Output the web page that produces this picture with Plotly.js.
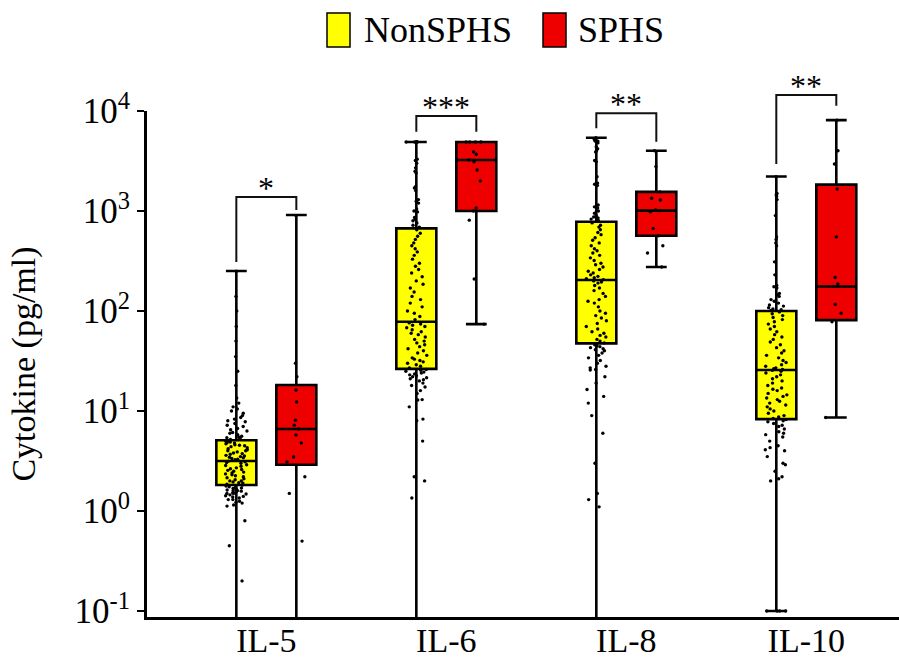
<!DOCTYPE html>
<html>
<head>
<meta charset="utf-8">
<script src="https://cdn.plot.ly/plotly-3.0.1.min.js"></script>
<style>
  html, body { margin: 0; padding: 0; background: #ffffff; }
  #chart { width: 899px; height: 661px; }
</style>
</head>
<body>
<div id="chart"></div>
<script>
// ---------------- DATA ----------------
const categories = ['IL-5', 'IL-6', 'IL-8', 'IL-10'];
const groupNames = ['NonSPHS', 'SPHS'];

// Box statistics (pg/ml)
const nonQ1     = [1.82, 26.4, 47.5, 8.3];
const nonMedian = [3.16, 78, 204, 25.7];
const nonQ3     = [5.1, 670, 780, 100];
const nonLower  = [0.01, 0.01, 0.01, 0.1];
const nonUpper  = [251, 4900, 5400, 2215];

const sphsQ1     = [2.9, 1000, 565, 81];
const sphsMedian = [6.6, 3236, 1008, 176];
const sphsQ3     = [18.2, 4900, 1555, 1835];
const sphsLower  = [0.01, 74, 275, 8.6];
const sphsUpper  = [912, 4900, 4000, 8100];

// Individual sample points
const il5Non = [0.2, 0.45, 0.8, 1.12, 1.15, 1.2, 1.22, 1.25, 1.3, 1.3, 1.35, 1.38, 1.4, 1.42, 1.45, 1.48, 1.5, 1.5, 1.52, 1.55, 1.58, 1.6, 1.6, 1.62, 1.65, 1.68, 1.7, 1.72, 1.75, 1.78,
  1.82, 1.85, 1.9, 1.92, 1.95, 2.0, 2.0, 2.05, 2.1, 2.15, 2.2, 2.25, 2.3, 2.35, 2.4, 2.45, 2.5, 2.55, 2.6, 2.65, 2.7, 2.8, 2.85, 2.9, 3.0, 3.05, 3.1, 3.15,
  3.25, 3.3, 3.35, 3.4, 3.45, 3.5, 3.55, 3.6, 3.7, 3.75, 3.8, 3.9, 4.0, 4.0, 4.1, 4.2, 4.3, 4.4, 4.5, 4.55, 4.6, 4.7, 4.8, 4.85, 4.9, 5.0, 5.05,
  5.2, 5.3, 5.4, 5.5, 5.6, 5.8, 6.0, 6.1, 6.3, 6.5, 6.7, 7.0, 7.2, 7.5, 7.8, 8.0, 8.3, 8.6, 9.0, 9.5, 10.0, 10.5, 11.0, 12.0, 13.5, 18, 25, 35, 50, 70, 100, 140, 250];
const il5Sphs = [0.5, 1.5, 2.2, 3.1, 3.47, 4.8, 5.75, 6.6, 7.2, 8.1, 12.3, 16.2, 22, 30, 900];

const il6Non = [4900, 4900, 4900, 4900, 4900, 4900, 3300, 3200, 3000, 2700, 2500, 2400, 1750, 1700, 1600, 1300, 1250, 1200, 1050, 1000, 980, 860, 820, 800, 760, 720, 690,
  650, 600, 560, 520, 480, 450, 420, 390, 360, 330, 300, 280, 260, 240, 220, 200, 185, 170, 155, 140, 130, 120, 110, 100, 95, 88, 82,
  76, 74, 72, 70, 68, 65, 62, 60, 58, 55, 52, 50, 48, 46, 44, 42, 40, 38, 36, 34, 33, 32, 31, 30, 29, 28, 27,
  26, 25.5, 25, 24.5, 24, 23.5, 23, 22.5, 22, 21.5, 21, 20.5, 20, 19, 18, 17.4, 16, 15, 13, 12.9, 11, 8.3, 8, 5, 2.2, 2.0, 1.35];
const il6Sphs = [4900, 4900, 4900, 4900, 3900, 3700, 3236, 3100, 2570, 2000, 1070, 1000, 810, 209, 74];

const il8Non = [5400, 5200, 5000, 5000, 4900, 4800, 4400, 4200, 4000, 3900, 3200, 3100, 2200, 1900, 1850, 1800, 1150, 1100, 1070, 1000, 950, 900, 870, 850, 830, 810, 790,
  760, 720, 690, 650, 610, 580, 540, 510, 480, 450, 420, 400, 380, 360, 340, 320, 300, 290, 275, 260, 250, 240, 230, 222, 215, 210, 206,
  200, 195, 190, 180, 170, 160, 150, 140, 130, 125, 120, 110, 100, 95, 90, 85, 80, 75, 70, 66, 62, 60, 57, 55, 52, 50, 48,
  46, 45, 44, 43, 42, 41, 40, 38, 36, 34, 32, 30, 28, 27, 26, 25.7, 22, 19, 16.4, 14, 12, 9, 6, 3, 1.5, 1.3, 1.1];
const il8Sphs = [4000, 2780, 1555, 1340, 1290, 1023, 1008, 980, 670, 565, 450, 380, 275];

const il10Non = [2200, 1500, 1450, 1400, 1300, 900, 550, 520, 480, 450, 310, 230, 180, 175, 170, 150, 145, 140, 130, 125, 120, 115, 112, 108, 105, 103, 101,
  98, 94, 90, 86, 82, 78, 74, 70, 66, 62, 58, 55, 52, 49, 46, 43, 40, 38, 36, 34, 32, 30.5, 29, 28, 27, 26.5, 26,
  25.5, 25, 24, 23, 22, 21, 20, 19, 18, 17, 16.5, 16, 15, 14.5, 14, 13.5, 13, 12.5, 12, 11.5, 11, 10.5, 10, 9.5, 9, 8.7, 8.4,
  8.2, 8.0, 7.8, 7.5, 7.2, 7.0, 6.6, 6.2, 6.0, 5.8, 5.5, 5.0, 4.5, 4.3, 4.1, 4.0, 3.5, 3.0, 2.9, 2.5, 2.2, 2.1, 2.0, 0.1, 0.1, 0.1, 0.1];
const il10Sphs = [8100, 4000, 2950, 1660, 550, 216, 186, 176, 117, 95, 78, 8.6];

// Significance brackets (pg/ml)
const sigLabels = ['*', '***', '**', '**'];
const sigBar    = [1380, 8900, 9480, 14450];
const sigLeft   = [309, 6200, 6710, 2950];
const sigRight  = [1023, 6200, 4930, 11300];

const tickVals = [0.1, 1, 10, 100, 1000, 10000];
const tickText = ['10<sup>-1</sup>', '10<sup>0</sup>', '10<sup>1</sup>', '10<sup>2</sup>', '10<sup>3</sup>', '10<sup>4</sup>'];

// ---------------- STYLE ----------------
const FONT = 'Liberation Serif, Times New Roman, serif';
const YELLOW = '#ffff00';
const RED = '#ee0000';
const xRange = [-0.663, 3.515];
const yRange = [-1.06, 4];
const margin = {l: 147, r: 0, t: 111, b: 44};
const W = 899, H = 661;
const plotW = W - margin.l - margin.r, plotH = H - margin.t - margin.b;

const boxGap = 1 / 3, boxGroupGap = 1 / 3;
const groupOffset = (1 - boxGap) / 4; // centre offset of each group's box

function xPaper(i) { return (i - xRange[0]) / (xRange[1] - xRange[0]); }
function yPaper(v) { return (Math.log10(v) - yRange[0]) / (yRange[1] - yRange[0]); }
function pxX(p) { return (p - margin.l) / plotW; }
function pxY(p) { return (H - margin.b - p) / plotH; }

function statBox(name, color, q1, med, q3, lo, hi, group) {
  return {
    type: 'box', name: name, x: categories, q1: q1, median: med, q3: q3,
    lowerfence: lo, upperfence: hi, boxpoints: false,
    fillcolor: color, line: {color: '#000000', width: 2.6},
    whiskerwidth: 0.52, offsetgroup: group, showlegend: false, hoverinfo: 'skip'
  };
}
function pointBox(name, lists, group) {
  const xs = [], ys = [];
  lists.forEach((arr, i) => arr.forEach(v => { xs.push(categories[i]); ys.push(v); }));
  return {
    type: 'box', name: name + ' points', x: xs, y: ys,
    boxpoints: 'all', jitter: 0.55, pointpos: 0,
    fillcolor: 'rgba(0,0,0,0)', line: {color: 'rgba(0,0,0,0)', width: 0},
    marker: {color: '#000000', size: 3.4, line: {width: 0}},
    offsetgroup: group, showlegend: false, hoverinfo: 'skip'
  };
}

const data = [
  statBox(groupNames[0], YELLOW, nonQ1, nonMedian, nonQ3, nonLower, nonUpper, 'g1'),
  statBox(groupNames[1], RED, sphsQ1, sphsMedian, sphsQ3, sphsLower, sphsUpper, 'g2'),
  pointBox(groupNames[0], [il5Non, il6Non, il8Non, il10Non], 'g1'),
  pointBox(groupNames[1], [il5Sphs, il6Sphs, il8Sphs, il10Sphs], 'g2')
];

const shapes = [];
const annotations = [];
categories.forEach((c, i) => {
  const xl = xPaper(i - groupOffset), xr = xPaper(i + groupOffset);
  shapes.push({
    type: 'path', xref: 'paper', yref: 'paper',
    path: 'M' + xl + ',' + yPaper(sigLeft[i]) + ' L' + xl + ',' + yPaper(sigBar[i]) +
          ' L' + xr + ',' + yPaper(sigBar[i]) + ' L' + xr + ',' + yPaper(sigRight[i]),
    line: {color: '#111111', width: 2}
  });
  annotations.push({
    xref: 'paper', yref: 'paper', x: xPaper(i), y: yPaper(sigBar[i]),
    xanchor: 'center', yanchor: 'middle', yshift: 9, showarrow: false,
    text: sigLabels[i], font: {family: FONT, size: 32, color: '#000000'}
  });
});

// Legend (custom, top centre)
const legendItems = [
  {name: groupNames[0], color: YELLOW, x0: 327, x1: 350, tx: 362},
  {name: groupNames[1], color: RED, x0: 543, x1: 566, tx: 576}
];
legendItems.forEach(it => {
  shapes.push({
    type: 'rect', xref: 'paper', yref: 'paper',
    x0: pxX(it.x0), x1: pxX(it.x1), y0: pxY(47), y1: pxY(13),
    fillcolor: it.color, line: {color: '#000000', width: 1.5}
  });
  annotations.push({
    xref: 'paper', yref: 'paper', x: pxX(it.tx), y: pxY(30),
    xanchor: 'left', yanchor: 'middle', showarrow: false,
    text: it.name, font: {family: FONT, size: 36, color: '#000000'}
  });
});

const layout = {
  width: W, height: H, margin: margin,
  paper_bgcolor: '#ffffff', plot_bgcolor: '#ffffff',
  font: {family: FONT, color: '#000000'},
  boxmode: 'group', boxgap: boxGap, boxgroupgap: boxGroupGap,
  showlegend: false,
  xaxis: {
    type: 'category', categoryorder: 'array', categoryarray: categories,
    range: xRange, showline: true, linecolor: '#000000', linewidth: 3,
    ticks: '', showgrid: false, zeroline: false, ticklabelstandoff: -9,
    tickfont: {family: FONT, size: 34, color: '#000000'}, fixedrange: true
  },
  yaxis: {
    type: 'log', range: yRange, tickvals: tickVals, ticktext: tickText,
    ticks: 'outside', ticklen: 7, tickwidth: 2.5, tickcolor: '#000000',
    showline: true, linecolor: '#000000', linewidth: 3,
    showgrid: false, zeroline: false,
    tickfont: {family: FONT, size: 35, color: '#000000'},
    title: {text: 'Cytokine (pg/ml)', font: {family: FONT, size: 34, color: '#000000'}, standoff: 29},
    fixedrange: true
  },
  shapes: shapes,
  annotations: annotations
};

Plotly.newPlot('chart', data, layout, {displayModeBar: false, staticPlot: true});
</script>
</body>
</html>
